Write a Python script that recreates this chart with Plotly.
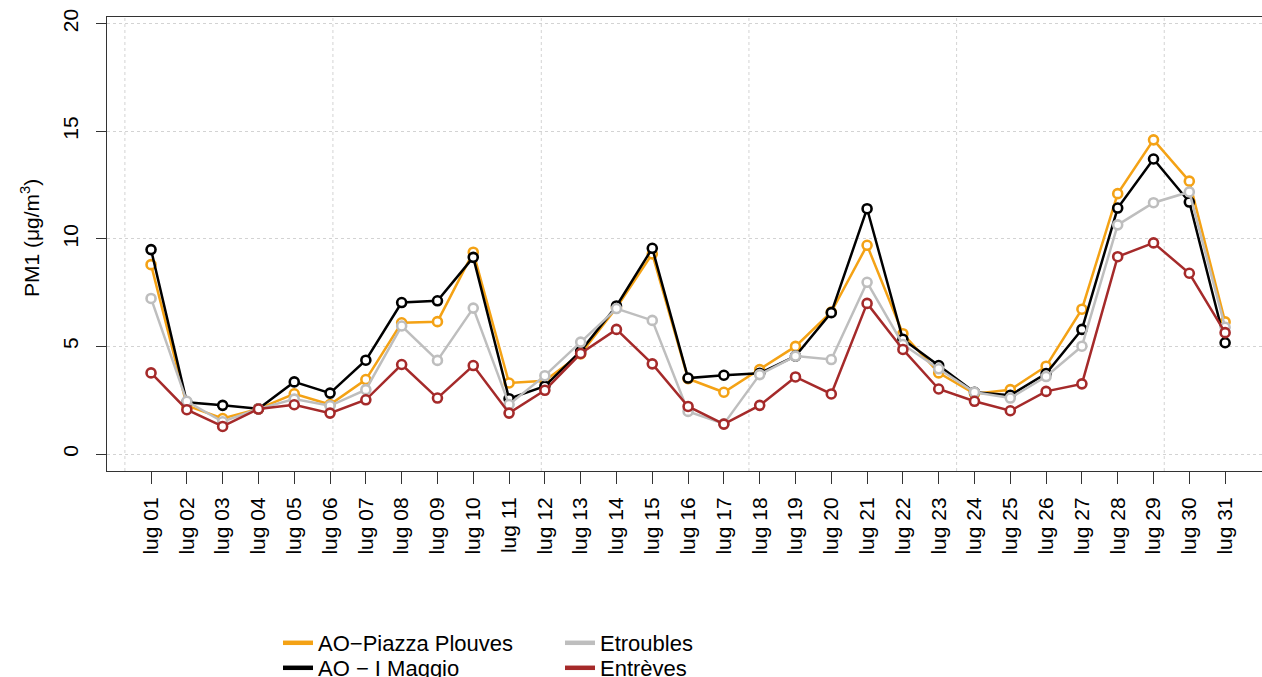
import plotly.graph_objects as go

days = list(range(1, 32))
day_labels = ["lug %02d" % d for d in days]

piazza_plouves = [8.80, 2.25, 1.65, 2.10, 2.80, 2.30, 3.46, 6.10, 6.15, 9.38,
                  3.30, 3.40, 4.65, 6.80, 9.30, 3.50, 2.87, 3.92, 5.00, 6.60,
                  9.70, 5.59, 3.77, 2.80, 2.99, 4.08, 6.73, 12.10, 14.60, 12.68, 6.14]
i_maggio = [9.50, 2.40, 2.26, 2.10, 3.35, 2.83, 4.36, 7.04, 7.12, 9.14,
            2.57, 3.15, 4.78, 6.88, 9.56, 3.53, 3.66, 3.75, 4.55, 6.57,
            11.40, 5.33, 4.11, 2.87, 2.73, 3.74, 5.79, 11.43, 13.71, 11.71, 5.17]
etroubles = [7.23, 2.45, 1.50, 2.10, 2.55, 2.24, 2.99, 5.95, 4.35, 6.78,
             2.30, 3.64, 5.20, 6.76, 6.21, 1.98, 1.40, 3.69, 4.55, 4.39,
             7.98, 5.09, 3.96, 2.87, 2.60, 3.60, 5.01, 10.65, 11.68, 12.18, 5.89]
entreves = [3.77, 2.06, 1.28, 2.09, 2.29, 1.90, 2.52, 4.16, 2.60, 4.11,
            1.90, 2.96, 4.67, 5.79, 4.19, 2.21, 1.39, 2.26, 3.58, 2.79,
            7.00, 4.86, 3.02, 2.45, 2.01, 2.91, 3.26, 9.17, 9.81, 8.40, 5.64]

series_names = ["AO\u2212Piazza Plouves", "AO \u2212 I Maggio", "Etroubles", "Entrèves"]
series_values = [piazza_plouves, i_maggio, etroubles, entreves]
series_colors = ["#F4A215", "#000000", "#BEBEBE", "#A52A2A"]

y_ticks = [0, 5, 10, 15, 20]
x_grid = [0.27, 6.08, 11.9, 17.7, 23.5, 29.3]
y_title = "PM1 (\u03bcg/m<sup>3</sup>)"

FONT = "Liberation Sans, Arial, sans-serif"
FS = 21

# legend slots: (left px, top px) of each legend entry
legend_ids = ["legend", "legend2", "legend3", "legend4"]
legend_pos = [(278, 622), (278, 647), (560, 622), (560, 647)]

fig = go.Figure()
for name, vals, col in zip(series_names, series_values, series_colors):
    fig.add_trace(go.Scatter(
        x=days, y=vals, mode="lines+markers", name=name, showlegend=False,
        line=dict(color=col, width=2.5),
        marker=dict(symbol="circle", size=9, color="white",
                    line=dict(color=col, width=2.6)),
        hoverinfo="skip",
    ))
for name, col, lg in zip(series_names, series_colors, legend_ids):
    fig.add_trace(go.Scatter(
        x=[None], y=[None], mode="lines", name=name, legend=lg,
        line=dict(color=col, width=4.5),
    ))

for g in x_grid:
    fig.add_shape(type="line", xref="x", yref="paper", x0=g, x1=g, y0=0, y1=1,
                  line=dict(color="#D3D3D3", width=1, dash="dot"), layer="below")

fig.add_annotation(text=y_title, xref="paper", yref="paper",
                   x=(30 - 107) / 1155, y=(471 - 238) / 454,
                   xanchor="center", yanchor="middle", textangle=-90,
                   showarrow=False,
                   font=dict(family=FONT, size=FS, color="#000000"))

legends = {}
for lg, (lx, ly) in zip(legend_ids, legend_pos):
    legends[lg] = dict(x=lx / 1262, y=1 - ly / 677,
                       xref="container", yref="container",
                       xanchor="left", yanchor="top",
                       font=dict(family=FONT, size=22, color="#000000"),
                       bgcolor="rgba(0,0,0,0)", itemwidth=30)

fig.update_layout(
    width=1262, height=677,
    margin=dict(l=107, r=0, t=17, b=206, autoexpand=False),
    paper_bgcolor="white", plot_bgcolor="white",
    font=dict(family=FONT, size=FS, color="#000000"),
    xaxis=dict(range=[-0.23, 32.03], tickvals=days, ticktext=day_labels,
               tickangle=-90, ticks="outside", ticklen=12, tickwidth=1,
               tickcolor="#333333", showline=True, linecolor="#333333",
               linewidth=1, mirror=True, showgrid=False, zeroline=False,
               automargin=False, ticklabelstandoff=5,
               tickfont=dict(family=FONT, size=FS, color="#000000")),
    yaxis=dict(range=[-0.79, 20.31], tickvals=y_ticks, tickangle=-90,
               ticks="outside", ticklen=10, tickwidth=1, tickcolor="#333333",
               showline=True, linecolor="#333333", linewidth=1, mirror=False,
               showgrid=True, gridcolor="#D3D3D3", griddash="dot", gridwidth=1,
               zeroline=False, automargin=False, ticklabelstandoff=10,
               tickfont=dict(family=FONT, size=FS, color="#000000")),
    **legends,
)

fig.write_html("out.html",
               config={"displayModeBar": False},
               post_script="document.body.style.margin='0';"
                           "document.body.style.overflow='hidden';")
